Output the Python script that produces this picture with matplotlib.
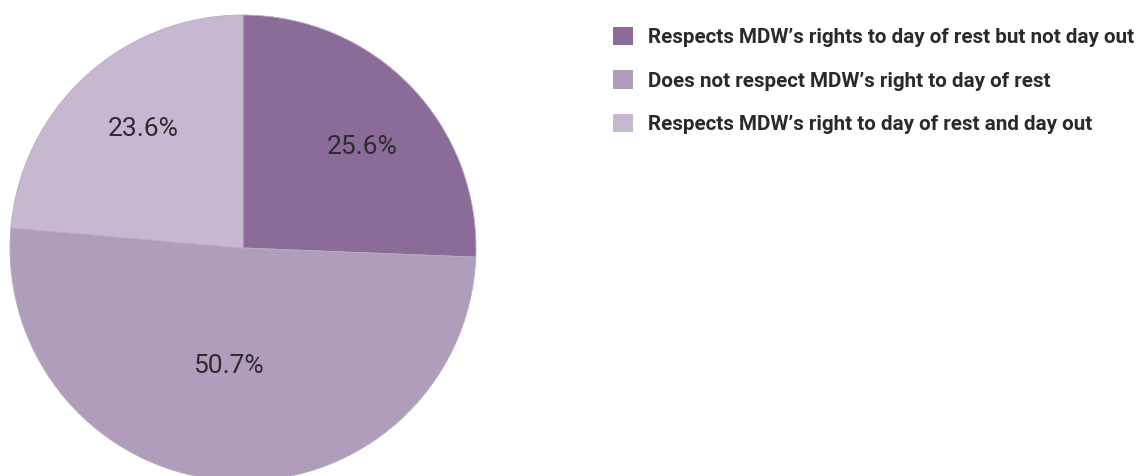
import matplotlib.pyplot as plt
from matplotlib.patches import Patch

labels = [
    "Respects MDW\u2019s rights to day of rest but not day out",
    "Does not respect MDW\u2019s right to day of rest",
    "Respects MDW\u2019s right to day of rest and day out",
]
values = [25.6, 50.7, 23.6]
colors = ["#8b6c98", "#b09dbc", "#c6b8d0"]

W, H = 1148, 476
fig = plt.figure(figsize=(W / 100, H / 100), dpi=100)

# pie centre ~ (243, 248) px, radius ~233 px
cx, cy, r = 243, 248, 233
ax = fig.add_axes([(cx - r) / W, (H - cy - r) / H, 2 * r / W, 2 * r / H])
wedges, _ = ax.pie(values, colors=colors, startangle=90, counterclock=False,
                   radius=1, wedgeprops=dict(edgecolor="#b8abc2", linewidth=0.6))
ax.set_xlim(-1, 1)
ax.set_ylim(-1, 1)
ax.set_aspect("equal")
ax.axis("off")

# label positions (pie radius units)
label_pos = [(0.51, 0.432), (-0.064, -0.505), (-0.43, 0.51)]
for v, (x, y) in zip(values, label_pos):
    ax.text(x, y, f"{v:.1f}%", ha="center", va="center", fontsize=19,
            family="Roboto", fontweight="normal", color="#2e2a30")

handles = [Patch(facecolor=c, edgecolor="none") for c in colors]
fig.legend(handles, labels, loc="upper left", bbox_to_anchor=(594 / W, 1 - 8 / H),
           frameon=False, prop=dict(family="Roboto", weight="bold", size=14.9),
           handlelength=1.0, handleheight=1.0, handletextpad=0.72,
           labelspacing=1.12, labelcolor="#2a2a2a")

fig.savefig("out.png", dpi=100)
